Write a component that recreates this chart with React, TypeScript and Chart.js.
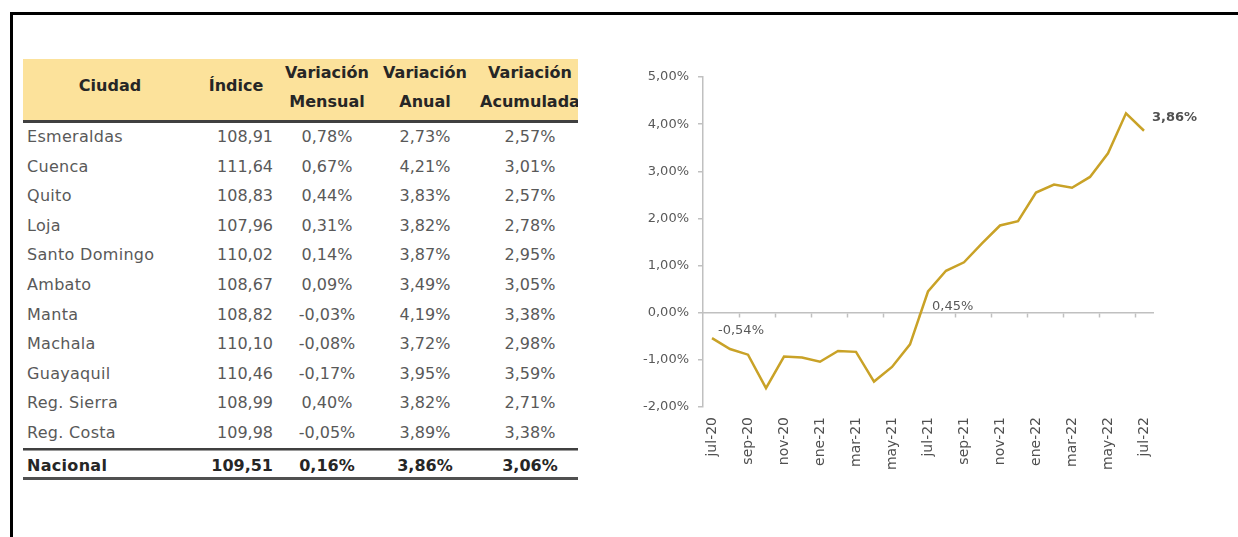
import React, { useEffect, useRef } from "react";
import { Chart, registerables } from "chart.js";

Chart.register(...registerables);

// ---- Chart data ----
const months = [
  "jul-20", "ago-20", "sep-20", "oct-20", "nov-20", "dic-20",
  "ene-21", "feb-21", "mar-21", "abr-21", "may-21", "jun-21",
  "jul-21", "ago-21", "sep-21", "oct-21", "nov-21", "dic-21",
  "ene-22", "feb-22", "mar-22", "abr-22", "may-22", "jun-22", "jul-22",
];
const inflation = [
  -0.54, -0.77, -0.89, -1.6, -0.93, -0.95,
  -1.04, -0.81, -0.83, -1.46, -1.15, -0.67,
  0.45, 0.89, 1.07, 1.47, 1.85, 1.94,
  2.55, 2.72, 2.65, 2.88, 3.38, 4.23, 3.86,
];
const yMin = -2;
const yMax = 5;
const yStep = 1;
const labelledPoints = [0, 12, 24];

// ---- Table data ----
const headers = [
  ["Ciudad"],
  ["Índice"],
  ["Variación", "Mensual"],
  ["Variación", "Anual"],
  ["Variación", "Acumulada"],
];
const cities = [
  "Esmeraldas", "Cuenca", "Quito", "Loja", "Santo Domingo", "Ambato",
  "Manta", "Machala", "Guayaquil", "Reg. Sierra", "Reg. Costa",
];
const indices = [
  "108,91", "111,64", "108,83", "107,96", "110,02", "108,67",
  "108,82", "110,10", "110,46", "108,99", "109,98",
];
const monthly = [
  "0,78%", "0,67%", "0,44%", "0,31%", "0,14%", "0,09%",
  "-0,03%", "-0,08%", "-0,17%", "0,40%", "-0,05%",
];
const annual = [
  "2,73%", "4,21%", "3,83%", "3,82%", "3,87%", "3,49%",
  "4,19%", "3,72%", "3,95%", "3,82%", "3,89%",
];
const cumulative = [
  "2,57%", "3,01%", "2,57%", "2,78%", "2,95%", "3,05%",
  "3,38%", "2,98%", "3,59%", "2,71%", "3,38%",
];
const totalRow = ["Nacional", "109,51", "0,16%", "3,86%", "3,06%"];

const FONT = '"DejaVu Sans", sans-serif';
const fmtPct = (v: number) => v.toFixed(2).replace(".", ",") + "%";

const pointLabelsPlugin = {
  id: "pointLabels",
  afterDatasetsDraw(chart: any) {
    const meta = chart.getDatasetMeta(0);
    const ctx = chart.ctx;
    const offsets = [
      [6, -8, false],
      [4, 15, false],
      [8, -13, true],
    ];
    ctx.save();
    labelledPoints.forEach((idx, k) => {
      const el = meta.data[idx];
      if (!el) return;
      const [dx, dy, bold] = offsets[k] as [number, number, boolean];
      ctx.font = (bold ? "bold " : "") + "13px " + FONT;
      ctx.fillStyle = bold ? "#505050" : "#595959";
      ctx.textAlign = "left";
      ctx.textBaseline = "middle";
      ctx.fillText(fmtPct(inflation[idx]), el.x + dx, el.y + dy);
    });
    ctx.restore();
  },
};

function LineChart() {
  const ref = useRef<HTMLCanvasElement | null>(null);
  useEffect(() => {
    if (!ref.current) return;
    const chart = new Chart(ref.current, {
      type: "line",
      data: {
        labels: months,
        datasets: [
          {
            data: inflation,
            borderColor: "#C9A227",
            borderWidth: 2.5,
            pointRadius: 0,
            tension: 0,
            fill: false,
          },
        ],
      },
      options: {
        responsive: false,
        animation: false,
        events: [],
        layout: { padding: { top: 17, right: 67, bottom: 0, left: 0 } },
        plugins: { legend: { display: false }, tooltip: { enabled: false } },
        scales: {
          x: {
            type: "category",
            offset: true,
            position: "bottom",
            grid: { display: false, drawTicks: false },
            border: { display: false },
            afterFit: (s: any) => {
              s.height = 93;
            },
            ticks: {
              autoSkip: false,
              minRotation: 90,
              maxRotation: 90,
              padding: 10,
              color: "#505050",
              font: { family: FONT, size: 14 },
              callback: (_v: any, i: number) => (i % 2 === 0 ? months[i] : ""),
            },
          },
          x2: {
            type: "category",
            offset: true,
            position: { y: 0 } as any,
            grid: {
              offset: true,
              drawOnChartArea: false,
              drawTicks: true,
              tickLength: 4,
              tickWidth: 1.5,
              tickColor: (c: any) =>
                typeof c.index === "number" && c.index > 0 && c.index < months.length && c.index % 2 === 0
                  ? "#C0C0C0"
                  : "rgba(0,0,0,0)",
            },
            border: { display: true, color: "#C0C0C0", width: 1.5 },
            ticks: { display: false, autoSkip: false },
          },
          y: {
            min: yMin,
            max: yMax,
            afterFit: (s: any) => {
              s.width = 73;
            },
            grid: {
              drawOnChartArea: false,
              drawTicks: true,
              tickLength: 5,
              color: "#C0C0C0",
              lineWidth: 1.5,
            },
            border: { display: true, color: "#C0C0C0", width: 1.5 },
            ticks: {
              stepSize: yStep,
              padding: 9,
              color: "#595959",
              font: { family: FONT, size: 13 },
              callback: (v: any) => fmtPct(Number(v)),
            },
          },
        },
      },
      plugins: [pointLabelsPlugin],
    } as any);
    return () => chart.destroy();
  }, []);
  return (
    <canvas
      ref={ref}
      width={590}
      height={440}
      style={{ position: "absolute", left: 630, top: 60, width: 590, height: 440 }}
    />
  );
}

const colCenters = [110, 236, 327, 425, 530];

function Table() {
  const rowY = (i: number) => 137 + i * 29.6;
  const cell = (text: string, col: number, yc: number, bold: boolean, color: string, key: string) => {
    const base: React.CSSProperties = {
      position: "absolute",
      top: yc - 11,
      height: 22,
      lineHeight: "22px",
      fontFamily: FONT,
      fontSize: 16,
      fontWeight: bold ? "bold" : "normal",
      color,
      whiteSpace: "nowrap",
    };
    if (col === 0) return <div key={key} style={{ ...base, left: 4, letterSpacing: "0.3px" }}>{text}</div>;
    if (col === 1)
      return <div key={key} style={{ ...base, left: 273 - 23 - 120, width: 120, textAlign: "right" }}>{text}</div>;
    return (
      <div key={key} style={{ ...base, left: colCenters[col] - 23 - 70, width: 140, textAlign: "center" }}>
        {text}
      </div>
    );
  };
  const rows = cities.map((c, i) => [c, indices[i], monthly[i], annual[i], cumulative[i]]);
  const headStyle = (j: number, yc: number): React.CSSProperties => ({
    position: "absolute",
    left: colCenters[j] - 23 - 70,
    width: 140,
    top: yc - 59 - 11,
    height: 22,
    lineHeight: "22px",
    textAlign: "center",
    fontFamily: FONT,
    fontSize: 16,
    fontWeight: "bold",
    color: "#262626",
    whiteSpace: "nowrap",
  });
  return (
    <div style={{ position: "absolute", left: 23, top: 59, width: 555, height: 430, overflow: "hidden" }}>
      <div style={{ position: "absolute", left: 0, top: 0, width: 555, height: 61, background: "#FCE29B" }} />
      {headers.map((h, j) =>
        h.length === 1 ? (
          <div key={"h" + j} style={headStyle(j, 86)}>
            {h[0]}
          </div>
        ) : (
          h.map((t, k) => (
            <div key={"h" + j + k} style={headStyle(j, k === 0 ? 73 : 102)}>
              {t}
            </div>
          ))
        )
      )}
      <div style={{ position: "absolute", left: 0, top: 120 - 59, width: 555, height: 3, background: "#404040" }} />
      {rows.map((r, i) => r.map((t, j) => cell(t, j, rowY(i) - 59, false, "#595959", "r" + i + "_" + j)))}
      <div style={{ position: "absolute", left: 0, top: 448 - 59, width: 555, height: 2, background: "#404040" }} />
      <div style={{ position: "absolute", left: 0, top: 450 - 59, width: 555, height: 1, background: "#9a9a9a" }} />
      {totalRow.map((t, j) => cell(t, j, 466 - 59, true, "#262626", "t" + j))}
      <div style={{ position: "absolute", left: 0, top: 477 - 59, width: 555, height: 3, background: "#505050" }} />
    </div>
  );
}

export default function App() {
  return (
    <div
      style={{
        position: "absolute",
        left: 0,
        top: 0,
        width: 1238,
        height: 537,
        overflow: "hidden",
        background: "#ffffff",
      }}
    >
      <div style={{ position: "absolute", left: 10, top: 12, width: 1228, height: 3, background: "#000" }} />
      <div style={{ position: "absolute", left: 10, top: 12, width: 3, height: 525, background: "#000" }} />
      <Table />
      <LineChart />
    </div>
  );
}
